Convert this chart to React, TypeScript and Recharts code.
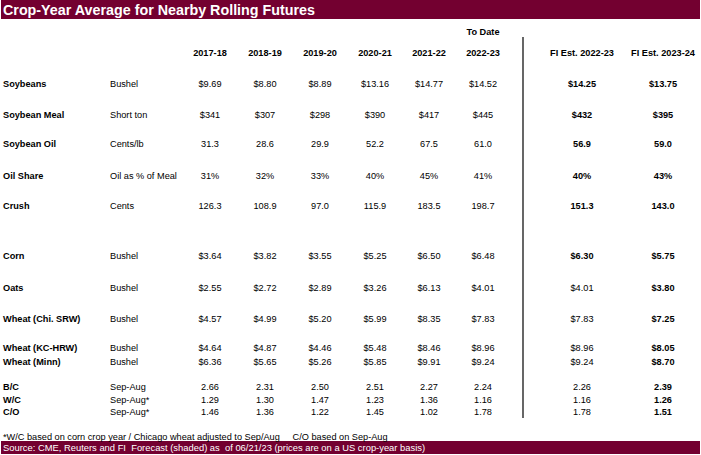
import React from "react";
import {
  ScatterChart,
  Scatter,
  XAxis,
  YAxis,
  ReferenceArea,
  ReferenceLine,
} from "recharts";

const title = "Crop-Year Average for Nearby Rolling Futures";
const years = ["2017-18", "2018-19", "2019-20", "2020-21", "2021-22", "2022-23"];
const estimates = ["FI Est. 2022-23", "FI Est. 2023-24"];
const toDate = "To Date";

const rowLabels = [
  "Soybeans",
  "Soybean Meal",
  "Soybean Oil",
  "Oil Share",
  "Crush",
  "Corn",
  "Oats",
  "Wheat (Chi. SRW)",
  "Wheat (KC-HRW)",
  "Wheat (Minn)",
  "B/C",
  "W/C",
  "C/O",
];
const units = [
  "Bushel",
  "Short ton",
  "Cents/lb",
  "Oil as % of Meal",
  "Cents",
  "Bushel",
  "Bushel",
  "Bushel",
  "Bushel",
  "Bushel",
  "Sep-Aug",
  "Sep-Aug*",
  "Sep-Aug*",
];

// 6 crop years, then FI Est. 2022-23 and FI Est. 2023-24
const soybeans = [9.69, 8.8, 8.89, 13.16, 14.77, 14.52, 14.25, 13.75];
const soybeanMeal = [341, 307, 298, 390, 417, 445, 432, 395];
const soybeanOil = [31.3, 28.6, 29.9, 52.2, 67.5, 61.0, 56.9, 59.0];
const oilShare = [31, 32, 33, 40, 45, 41, 40, 43];
const crush = [126.3, 108.9, 97.0, 115.9, 183.5, 198.7, 151.3, 143.0];
const corn = [3.64, 3.82, 3.55, 5.25, 6.5, 6.48, 6.3, 5.75];
const oats = [2.55, 2.72, 2.89, 3.26, 6.13, 4.01, 4.01, 3.8];
const wheatChi = [4.57, 4.99, 5.2, 5.99, 8.35, 7.83, 7.83, 7.25];
const wheatKC = [4.64, 4.87, 4.46, 5.48, 8.46, 8.96, 8.96, 8.05];
const wheatMinn = [6.36, 5.65, 5.26, 5.85, 9.91, 9.24, 9.24, 8.7];
const bc = [2.66, 2.31, 2.5, 2.51, 2.27, 2.24, 2.26, 2.39];
const wc = [1.29, 1.3, 1.47, 1.23, 1.36, 1.16, 1.16, 1.26];
const co = [1.46, 1.36, 1.22, 1.45, 1.02, 1.78, 1.78, 1.51];

const rows = [soybeans, soybeanMeal, soybeanOil, oilShare, crush, corn, oats, wheatChi, wheatKC, wheatMinn, bc, wc, co];
const formats = ["$2", "$0", "1", "%", "1", "$2", "$2", "$2", "$2", "$2", "2", "2", "2"];
// which rows show the FI Est. 2022-23 figure in bold
const estBold = [true, true, true, true, true, true, false, false, false, false, false, false, false];

const footnote = "*W/C based on corn crop year / Chicago wheat adjusted to Sep/Aug     C/O based on Sep-Aug";
const source =
  "Source: CME, Reuters and FI  Forecast (shaded) as  of 06/21/23 (prices are on a US crop-year basis)";

// layout
const W = 701;
const H = 455;
const labelX = 3;
const unitX = 110;
const colX = [210, 265, 320, 375, 429, 483, 582, 663];
const rowY = [84, 115, 144, 176, 206, 256, 288, 319, 348, 362, 387, 400, 412];
const headerY = 53;
const toDateY = 32;
const maroon = "#730030";
const font = "'Liberation Sans', Arial, sans-serif";

function fmt(v: number, f: string) {
  if (f === "$2") return "$" + v.toFixed(2);
  if (f === "$0") return "$" + v.toFixed(0);
  if (f === "%") return v.toFixed(0) + "%";
  if (f === "1") return v.toFixed(1);
  return v.toFixed(2);
}

type Cell = { x: number; y: number; text: string; anchor: string; bold: boolean };

const cells: Cell[] = [];
cells.push({ x: colX[5], y: toDateY, text: toDate, anchor: "middle", bold: true });
years.forEach((t, j) => cells.push({ x: colX[j], y: headerY, text: t, anchor: "middle", bold: true }));
estimates.forEach((t, j) => cells.push({ x: colX[6 + j], y: headerY, text: t, anchor: "middle", bold: true }));
rows.forEach((vals, i) => {
  cells.push({ x: labelX, y: rowY[i], text: rowLabels[i], anchor: "start", bold: true });
  cells.push({ x: unitX, y: rowY[i], text: units[i], anchor: "start", bold: false });
  vals.forEach((v, j) => {
    const bold = j === 7 || (j === 6 && estBold[i]);
    cells.push({ x: colX[j], y: rowY[i], text: fmt(v, formats[i]), anchor: "middle", bold });
  });
});
cells.push({ x: labelX, y: 437, text: footnote, anchor: "start", bold: false });

const CellText = (p: any) => {
  const d: Cell = p.payload;
  return (
    <text
      x={p.cx}
      y={p.cy}
      textAnchor={d.anchor}
      dominantBaseline="central"
      fontFamily={font}
      fontSize={9.2}
      fontWeight={d.bold ? "bold" : "normal"}
      fill="#000"
      style={{ whiteSpace: "pre" }}
    >
      {d.text}
    </text>
  );
};

const barLabel = (text: string, size: number, bold: boolean) => (props: any) => {
  const vb = props.viewBox;
  return (
    <text
      x={vb.x + 2}
      y={vb.y + vb.height / 2}
      dominantBaseline="central"
      fontFamily={font}
      fontSize={size}
      fontWeight={bold ? "bold" : "normal"}
      fill="#fff"
      style={{ whiteSpace: "pre" }}
    >
      {text}
    </text>
  );
};

export default function App() {
  return (
    <div style={{ position: "fixed", left: 0, top: 0, width: W, height: H, background: "#fff" }}>
      <ScatterChart width={W} height={H} margin={{ top: 0, right: 0, bottom: 0, left: 0 }}>
        <XAxis type="number" dataKey="x" domain={[0, W]} hide />
        <YAxis type="number" dataKey="y" domain={[0, H]} reversed hide />
        <ReferenceArea x1={1} x2={700} y1={0} y2={19} fill={maroon} fillOpacity={1} stroke="none" label={{ content: barLabel(title, 14.3, true) }} />
        <ReferenceArea x1={1} x2={700} y1={441} y2={454} fill={maroon} fillOpacity={1} stroke="none" label={{ content: barLabel(source, 9.4, false) }} />
        <ReferenceLine segment={[{ x: 523, y: 37 }, { x: 523, y: 418 }]} stroke="#000" strokeWidth={1.2} />
        <Scatter data={cells} shape={CellText} isAnimationActive={false} />
      </ScatterChart>
    </div>
  );
}
